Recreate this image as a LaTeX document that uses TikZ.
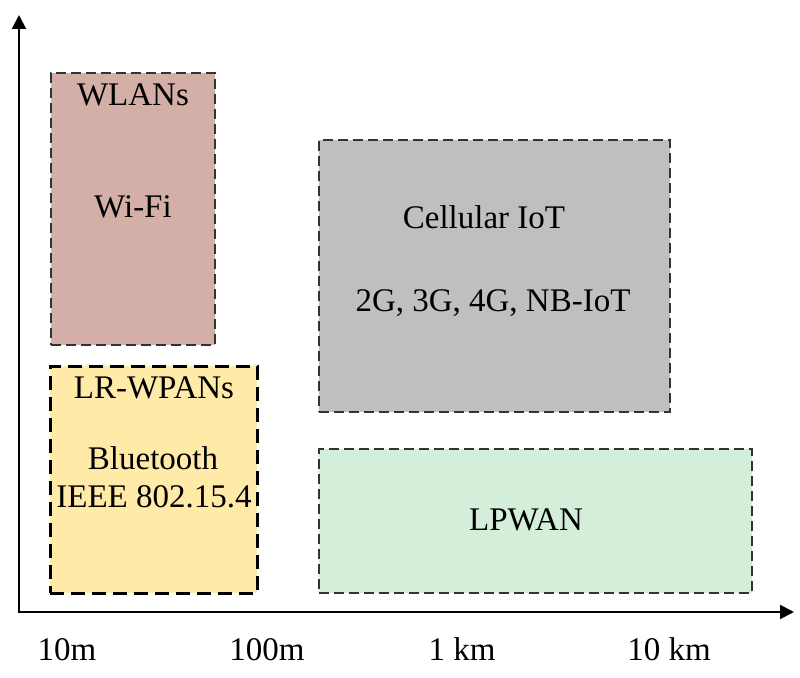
\documentclass[tikz,border=0pt]{standalone}
\usepackage{fontspec}
\setmainfont{Liberation Serif}
\usepackage{tikz}
\usetikzlibrary{arrows.meta}
\definecolor{wlanfill}{HTML}{D3AFA8}
\definecolor{wpanfill}{HTML}{FFEAA8}
\definecolor{cellfill}{HTML}{BFBFBF}
\definecolor{lpwanfill}{HTML}{D3EED9}

\begin{document}
\begin{tikzpicture}[
    x=0.5pt, y=-0.5pt,
    every node/.style={font=\fontsize{16.5}{19}\selectfont},
    zone/.style={draw=black!80, line width=0.9pt, dash pattern=on 5pt off 2.5pt, inner sep=0pt, anchor=north west},
    boldzone/.style={zone, draw=black, line width=1.4pt, dash pattern=on 7pt off 3.5pt},
    tag/.style={anchor=base, inner sep=0pt},
    axis/.style={line width=1pt, {Triangle[length=7pt,width=7pt]}-{Triangle[length=7pt,width=7pt]}}
]
   \useasboundingbox (0,0) rectangle (800,678);

   % Technology zones
   \node[zone, fill=wlanfill, minimum width=82pt, minimum height=136pt] (wlan) at (50,72) {};
   \node[boldzone, fill=wpanfill, minimum width=103.5pt, minimum height=113.5pt] (wpan) at (49,365) {};
   \node[zone, fill=cellfill, minimum width=175.5pt, minimum height=136pt] (cell) at (318,139) {};
   \node[zone, fill=lpwanfill, minimum width=216.5pt, minimum height=72pt] (lpwan) at (318,448) {};

   % Zone labels
   \node[tag] (wlanname) at (133,106) {WLANs};
   \node[tag] (wifi) at (133,218) {Wi-Fi};
   \node[tag] (wpanname) at (154,399) {LR-WPANs};
   \node[tag] (bt) at (153,470) {Bluetooth};
   \node[tag] (ieee) at (154,508) {IEEE 802.15.4};
   \node[tag] (cellname) at (484,229) {Cellular IoT};
   \node[tag] (gens) at (493,312) {2G, 3G, 4G, NB-IoT};
   \node[tag] (lpwanname) at (526,531) {LPWAN};

   % Axes
   \coordinate (ytip) at (19,15);
   \coordinate (xtip) at (794,612);
   \draw[axis] (ytip) |- (xtip);

   % Range ticks
   \node[tag] (r10m) at (67,661) {10m};
   \node[tag] (r100m) at (267,661) {100m};
   \node[tag] (r1km) at (462,661) {1 km};
   \node[tag] (r10km) at (669,661) {10 km};
\end{tikzpicture}
\end{document}
